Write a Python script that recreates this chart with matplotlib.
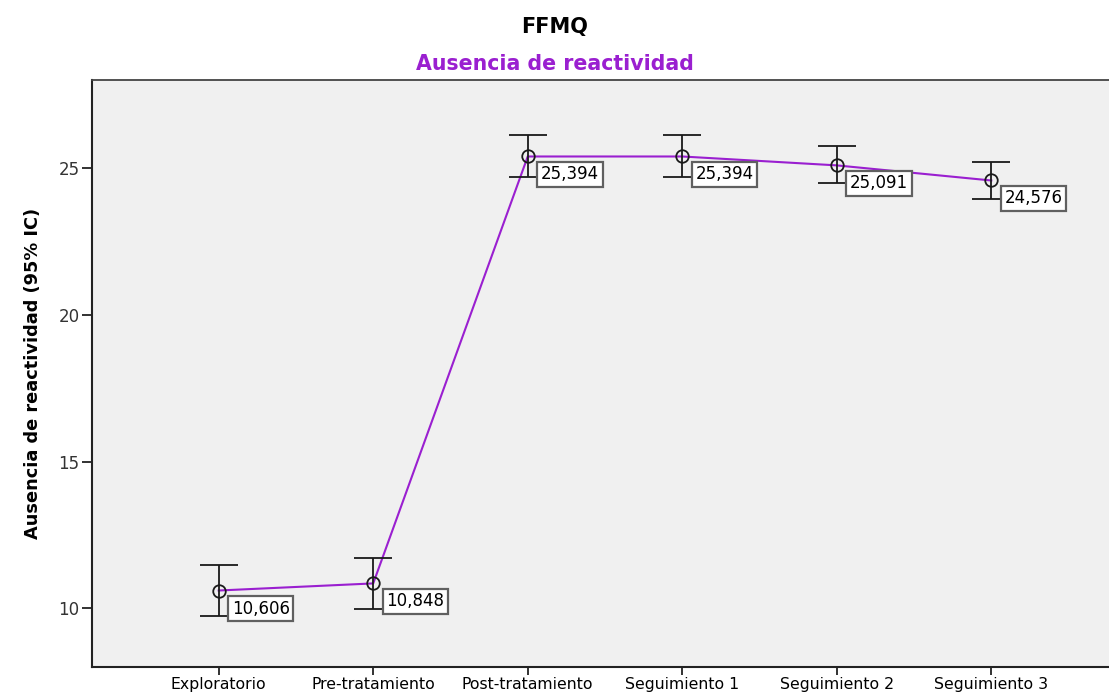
import matplotlib
matplotlib.use("Agg")
import matplotlib.pyplot as plt

categories = ["Exploratorio", "Pre-tratamiento", "Post-tratamiento",
              "Seguimiento 1", "Seguimiento 2", "Seguimiento 3"]
means = [10.606, 10.848, 25.394, 25.394, 25.091, 24.576]
ci_low = [9.74, 9.98, 24.70, 24.69, 24.49, 23.96]
ci_high = [11.48, 11.72, 26.12, 26.12, 25.74, 25.20]
labels = ["10,606", "10,848", "25,394", "25,394", "25,091", "24,576"]
yticks = [10, 15, 20, 25]

PURPLE = "#9a1fd0"
FONT = ["DejaVu Sans"]

fig = plt.figure(figsize=(11.09, 6.93), dpi=100)
ax = fig.add_axes([92 / 1109, 1 - 667 / 693, 1026 / 1109, 587 / 693])
ax.set_facecolor("#f0f0f0")

x = list(range(len(categories)))
yerr = [[m - lo for m, lo in zip(means, ci_low)],
        [hi - m for m, hi in zip(means, ci_high)]]

ax.plot(x, means, color=PURPLE, lw=1.5, zorder=2)
ax.errorbar(x, means, yerr=yerr, fmt="none", ecolor="#1a1a1a",
            elinewidth=1.3, capsize=13.5, capthick=1.3, zorder=3)
ax.plot(x, means, "o", mfc="none", mec="#1a1a1a", ms=9, mew=1.3, zorder=4)

for xi, m, lab in zip(x, means, labels):
    ax.annotate(lab, (xi, m), xytext=(13, -18), textcoords="offset pixels",
                ha="left", va="center", fontsize=12, family=FONT,
                bbox=dict(boxstyle="square,pad=0.22", fc="white",
                          ec="#606060", lw=1.6), zorder=5)

ax.set_xlim(-0.82, 5.82)
ax.set_ylim(8, 28)
ax.set_xticks(x)
ax.set_xticklabels(categories, fontsize=11.3, family=FONT)
ax.set_yticks(yticks)
ax.set_yticklabels([str(t) for t in yticks], fontsize=12, family=FONT,
                   color="#333333")
ax.tick_params(axis="both", width=1.3, color="#222222")
ax.tick_params(axis="x", length=6, pad=1)
ax.tick_params(axis="y", length=7, pad=2)

for s in ["left", "bottom"]:
    ax.spines[s].set_linewidth(1.5)
    ax.spines[s].set_color("#222222")
ax.spines["top"].set_color("#444444")
ax.spines["top"].set_linewidth(1.3)
ax.spines["right"].set_visible(False)

ax.set_ylabel("Ausencia de reactividad (95% IC)", fontsize=12.8,
              fontweight="bold", family=FONT, labelpad=12)

fig.text(0.5, 1 - 27 / 693, "FFMQ", ha="center", va="center",
         fontsize=15, fontweight="bold", family=FONT)
fig.text(0.5, 1 - 64 / 693, "Ausencia de reactividad", ha="center",
         va="center", fontsize=14.8, fontweight="bold", family=FONT,
         color=PURPLE)

fig.savefig("out.png", dpi=100)
